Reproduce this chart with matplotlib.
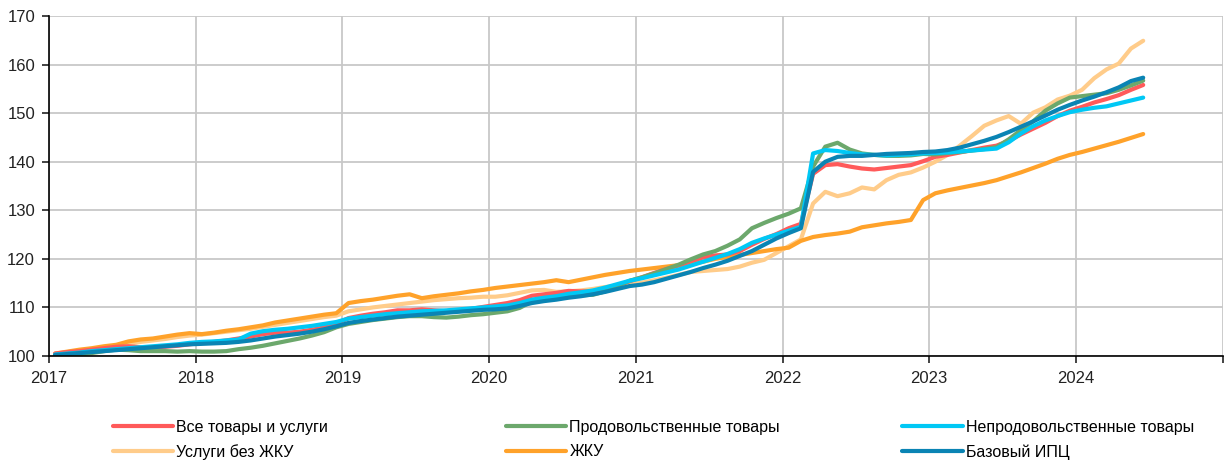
import numpy as np
import matplotlib
matplotlib.use("Agg")
import matplotlib.pyplot as plt

plt.rcParams['font.family'] = ['Liberation Sans Narrow', 'Liberation Sans', 'DejaVu Sans']

# monthly index, Dec 2016 = 100, Jan 2017 .. Jun 2024
all_goods = [100.5, 100.8, 101.0, 101.3, 101.6, 101.9, 102.0, 101.8, 101.8, 101.9, 102.1, 102.4,
             102.7, 102.9, 103.2, 103.6, 104.0, 104.5, 104.8, 104.8, 105.0, 105.4, 105.9, 106.7,
             107.8, 108.3, 108.7, 109.0, 109.4, 109.4, 109.6, 109.4, 109.2, 109.4, 109.7, 110.1,
             110.5, 110.9, 111.5, 112.4, 112.7, 113.0, 113.4, 113.3, 113.3, 113.7, 114.5, 115.4,
             116.2, 117.1, 117.9, 118.6, 119.5, 120.3, 120.7, 120.9, 121.6, 122.9, 124.1, 125.1,
             126.3, 127.2, 137.5, 139.3, 139.5, 139.0, 138.6, 138.4, 138.7, 139.0, 139.3, 140.1,
             141.0, 141.4, 141.9, 142.4, 142.9, 143.3, 144.3, 145.6, 146.8, 148.0, 149.4, 150.5,
             151.3, 152.2, 152.9, 153.7, 154.8, 155.8]
food = [100.1, 100.1, 100.3, 100.6, 101.0, 101.3, 101.2, 101.0, 101.0, 101.0, 100.9, 101.0,
        100.9, 100.9, 101.0, 101.4, 101.7, 102.1, 102.6, 103.1, 103.6, 104.2, 104.9, 105.9,
        106.6, 107.0, 107.4, 107.7, 108.0, 108.2, 108.2, 108.0, 107.9, 108.1, 108.4, 108.6,
        108.9, 109.2, 109.9, 111.2, 111.7, 112.0, 112.4, 112.5, 112.6, 113.3, 114.4, 115.5,
        116.2, 117.0, 117.9, 118.8, 119.9, 120.9, 121.6, 122.7, 124.0, 126.3, 127.4, 128.4,
        129.3, 130.4, 139.0, 143.1, 143.9, 142.5, 141.7, 141.4, 141.2, 141.2, 141.3, 141.6,
        141.5, 141.8, 142.0, 142.3, 142.6, 143.0, 144.6, 146.5, 148.3, 150.5, 152.0, 153.2,
        153.5, 153.8, 154.1, 154.8, 155.7, 156.7]
nonfood = [100.3, 100.5, 100.7, 101.0, 101.2, 101.4, 101.6, 101.8, 102.0, 102.2, 102.4, 102.7,
           102.9, 103.0, 103.2, 103.4, 104.6, 105.1, 105.4, 105.6, 105.9, 106.2, 106.6, 107.0,
           107.7, 108.0, 108.3, 108.6, 108.8, 109.0, 109.2, 109.3, 109.4, 109.6, 109.8, 110.0,
           110.2, 110.4, 110.9, 111.6, 112.0, 112.3, 112.8, 113.1, 113.5, 114.1, 114.8, 115.5,
           116.0, 116.6, 117.2, 117.8, 118.6, 119.4, 120.2, 121.0, 122.0, 123.3, 124.2, 125.0,
           125.8, 126.6, 141.7, 142.4, 142.2, 141.8, 141.5, 141.4, 141.3, 141.4, 141.5, 141.7,
           141.8, 141.9, 142.1, 142.3, 142.5, 142.7, 144.0, 145.8, 147.3, 148.5, 149.4, 150.2,
           150.7, 151.1, 151.4, 152.0, 152.6, 153.2]
services = [100.3, 100.6, 101.0, 101.3, 101.7, 102.0, 102.5, 102.9, 103.2, 103.5, 103.9, 104.2,
            104.4, 104.7, 105.0, 105.3, 105.6, 106.0, 106.4, 106.8, 107.2, 107.6, 108.0, 108.3,
            109.2, 109.6, 110.0, 110.3, 110.6, 110.9, 111.2, 111.5, 111.7, 111.9, 112.0, 112.2,
            112.2, 112.5, 113.0, 113.5, 113.6, 113.2, 113.3, 113.5, 113.8, 114.2, 114.5, 114.9,
            115.1, 115.6, 116.1, 116.7, 117.3, 117.5, 117.7, 117.9, 118.4, 119.2, 119.8, 121.2,
            122.6, 124.0, 131.4, 133.8, 132.9, 133.5, 134.7, 134.3, 136.2, 137.3, 137.8, 138.8,
            140.0, 141.4, 143.3, 145.3, 147.4, 148.5, 149.4, 147.8, 150.1, 151.2, 152.8, 153.6,
            154.8, 157.2, 159.0, 160.2, 163.3, 164.9]
utilities = [100.5, 100.9, 101.3, 101.6, 102.0, 102.3, 103.0, 103.4, 103.6, 104.0, 104.4, 104.7,
             104.5, 104.8, 105.2, 105.5, 105.9, 106.3, 106.9, 107.3, 107.7, 108.1, 108.5, 108.8,
             110.9, 111.3, 111.6, 112.0, 112.4, 112.7, 111.9, 112.3, 112.6, 112.9, 113.3, 113.6,
             114.0, 114.3, 114.6, 114.9, 115.2, 115.6, 115.2, 115.7, 116.2, 116.7, 117.1, 117.5,
             117.8, 118.1, 118.4, 118.7, 119.0, 119.4, 120.0, 120.4, 120.8, 121.2, 121.6, 122.0,
             122.3, 123.7, 124.5, 124.9, 125.2, 125.6, 126.5, 126.9, 127.3, 127.6, 128.0, 132.1,
             133.5, 134.1, 134.6, 135.1, 135.6, 136.2, 137.0, 137.8, 138.7, 139.6, 140.6, 141.4,
             142.0, 142.7, 143.4, 144.1, 144.9, 145.7]
core = [100.2, 100.4, 100.6, 100.8, 101.0, 101.2, 101.4, 101.6, 101.8, 102.0, 102.2, 102.4,
        102.5, 102.6, 102.7, 102.9, 103.2, 103.6, 104.0, 104.3, 104.6, 105.0, 105.5, 106.1,
        106.8, 107.2, 107.5, 107.8, 108.1, 108.3, 108.5, 108.7, 108.9, 109.1, 109.3, 109.5,
        109.6, 109.8, 110.3, 110.9, 111.3, 111.6, 112.0, 112.3, 112.7, 113.2, 113.8, 114.4,
        114.7, 115.2, 115.9, 116.6, 117.3, 118.1, 118.8, 119.6, 120.6, 121.6, 122.9, 124.2,
        125.3, 126.3, 137.9, 140.0, 141.0, 141.2, 141.2, 141.4, 141.6, 141.7, 141.8, 142.0,
        142.1, 142.4, 142.9, 143.6, 144.3, 145.1, 146.1, 147.2, 148.3, 149.5, 150.7, 151.7,
        152.6, 153.4, 154.3, 155.3, 156.6, 157.3]

labels = ['Все товары и услуги', 'Продовольственные товары', 'Непродовольственные товары',
          'Услуги без ЖКУ', 'ЖКУ', 'Базовый ИПЦ']
colors = ['#FF5A5A', '#6CA86C', '#00C8F5', '#FFCC8A', '#FFA22A', '#0A84B4']
years = list(range(2017, 2025))

# mid-month positions in fractional years
t = 2017 + (np.arange(len(all_goods)) + 0.5) / 12

fig = plt.figure(figsize=(12.24, 4.61), dpi=100)
ax = fig.add_axes([0.04, 0.2278, 0.9589, 0.7375])

series = [all_goods, food, nonfood, services, utilities, core]
order = [3, 4, 0, 1, 2, 5]  # drawing order (core and nonfood on top)
lines = {}
for i in order:
    ln, = ax.plot(t, series[i], color=colors[i], lw=3, solid_capstyle='round',
                  solid_joinstyle='round', label=labels[i])
    lines[i] = ln

ax.set_xlim(2017, 2025)
ax.set_ylim(100, 170)
ax.set_xticks(years + [2025])
ax.set_xticklabels([str(y) for y in years] + [''])
ax.set_yticks(range(100, 171, 10))
ax.grid(True, color='#C8C8C8', lw=1.3)
ax.set_axisbelow(True)
for s in ['top', 'right']:
    ax.spines[s].set_visible(False)
ax.spines['left'].set_color('black')
ax.spines['bottom'].set_color('black')
ax.spines['left'].set_linewidth(1.2)
ax.spines['bottom'].set_linewidth(1.2)
ax.tick_params(axis='both', labelsize=12, colors='#222222', length=5, width=1.2)
ax.tick_params(axis='y', pad=5)
ax.tick_params(axis='x', pad=6)

# legend: three columns placed separately
xs = [0.092, 0.413, 0.737]
for col in range(3):
    hs = [lines[col], lines[col + 3]]
    fig.legend(handles=hs, labels=[labels[col], labels[col + 3]], loc='upper left',
               bbox_to_anchor=(xs[col], 0.09), frameon=False, fontsize=11.5,
               handlelength=3.8, handletextpad=0.2, labelspacing=0.6,
               borderaxespad=0, borderpad=0)

fig.savefig('out.png', dpi=100)
